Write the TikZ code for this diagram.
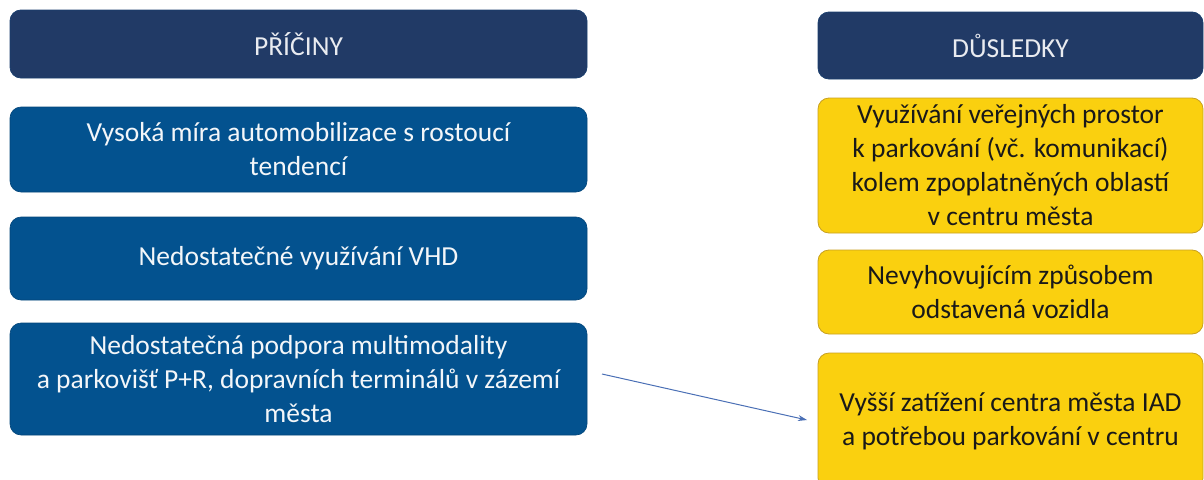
\documentclass[tikz,border=0pt]{standalone}
\usepackage{fontspec}
\setmainfont{Carlito}
\usetikzlibrary{arrows.meta}
\definecolor{navy}{HTML}{213A66}
\definecolor{bluebox}{HTML}{03528F}
\definecolor{yel}{HTML}{FAD00F}
\definecolor{yelborder}{HTML}{C8A020}
\definecolor{arrowc}{HTML}{4A6FB5}
\tikzset{
  base/.style={rounded corners=11pt, align=center, inner sep=0pt, font=\fontsize{27.5}{34}\selectfont},
  header/.style={base, fill=navy, draw=navy!80!bluebox, line width=0.8pt, text=white!90!navy},
  cause/.style={base, fill=bluebox, draw=bluebox!85!black, line width=0.6pt, text=white!95!bluebox},
  effect/.style={base, fill=yel, draw=yelborder, line width=0.8pt, text=black!90},
  conn/.style={draw=arrowc, line width=1pt, -{Stealth[length=9pt,width=6pt]}}
}
\begin{document}
\begin{tikzpicture}[x=1pt,y=-1pt]
\useasboundingbox (0,0) rectangle (1204,479);
\clip (0,0) rectangle (1204,479);
% left column
\node[header, minimum width=577pt, minimum height=68pt] (h1) at (298.5,44) {PŘÍČINY};
\node[cause, minimum width=577pt, minimum height=85pt] (c1) at (298.5,149.5) {Vysoká míra automobilizace s rostoucí\\tendencí};
\node[cause, minimum width=577pt, minimum height=83pt] (c2) at (298.5,258.5) {Nedostatečné využívání VHD};
\node[cause, minimum width=577pt, minimum height=112pt] (c3) at (298.5,379) {Nedostatečná podpora multimodality\\a parkovišť P+R, dopravních terminálů v zázemí\\města};
% right column
\node[header, minimum width=385pt, minimum height=67pt] (h2) at (1010.5,45.5) {DŮSLEDKY};
\node[effect, minimum width=385pt, minimum height=135pt] (e1) at (1010.5,165.5) {Využívání veřejných prostor\\k parkování (vč. komunikací)\\kolem zpoplatněných oblastí\\v centru města};
\node[effect, minimum width=385pt, minimum height=84pt] (e2) at (1010.5,292) {Nevyhovujícím způsobem\\odstavená vozidla};
\node[effect, minimum width=385pt, minimum height=136pt] (e3) at (1010.5,421) {Vyšší zatížení centra města IAD\\a potřebou parkování v centru};
% connector
\coordinate (as) at (602,374);
\coordinate (ae) at (807,420);
\draw[conn] (as) -- (ae);
\end{tikzpicture}
\end{document}
